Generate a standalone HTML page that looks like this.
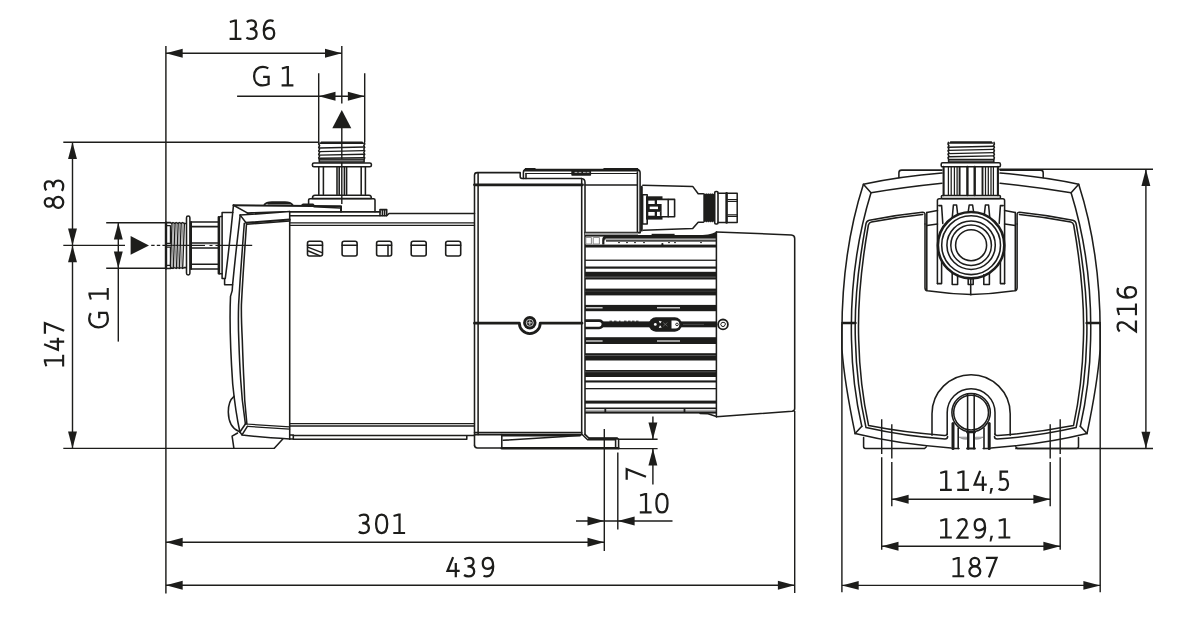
<!DOCTYPE html>
<html>
<head>
<meta charset="utf-8">
<title>Pump dimension drawing</title>
<style>
html,body{margin:0;padding:0;background:#fff;}
body{width:1200px;height:622px;overflow:hidden;font-family:"Liberation Sans",sans-serif;}
svg{display:block;position:absolute;left:0;top:0;}
.d{stroke:#1d1d1b;stroke-width:1.42;fill:none;}
.o{stroke:#1d1d1b;stroke-width:1.55;fill:none;stroke-linejoin:round;stroke-linecap:round;}
.ow{stroke:#1d1d1b;stroke-width:1.55;fill:#fff;stroke-linejoin:round;}
.k{fill:#1d1d1b;stroke:none;}
.gs{stroke:#1d1d1b;stroke-width:2.25;fill:none;stroke-linecap:butt;stroke-linejoin:miter;}
</style>
</head>
<body>
<svg width="1200" height="622" viewBox="0 0 1200 622">
<defs>
<path id="ar" d="M0 0L-16.8 -4.45L-16.8 4.45Z" fill="#1d1d1b"/>

<!-- glyphs: origin = left ink edge on baseline -->
<g id="g0" class="gs"><path d="M6.65 -19.45C10.2 -19.45 12.2 -16 12.2 -10.2C12.2 -4.4 10.2 -0.95 6.65 -0.95C3.1 -0.95 1.1 -4.4 1.1 -10.2C1.1 -16 3.1 -19.45 6.65 -19.45Z"/></g>
<g id="g1"><path class="k" d="M5.7 -20.4H7.95V-2.1H12.4V0H0.6V-2.1H5.7V-18.2L1.1 -16.9L0.6 -18.9Z"/></g>
<g id="g2" class="gs"><path d="M1.3 -17.3Q3.3 -19.45 6 -19.45C8.8 -19.45 10.3 -17.7 10.3 -15.2C10.3 -12.8 8.9 -11 6.8 -8.5L1.5 -1.05H12.3"/></g>
<g id="g3" class="gs"><path d="M1.1 -17.9Q3.2 -19.45 5.8 -19.45C8.8 -19.45 10.2 -17.6 10.2 -15.3C10.2 -12.7 8.2 -11 4.2 -10.9C8.6 -10.8 10.9 -9 10.9 -5.9C10.9 -2.8 8.7 -0.95 5.3 -0.95Q2.7 -0.95 0.7 -2.3"/></g>
<g id="g4" class="gs"><path d="M7.1 -20.1L1.5 -6.3H13.7M9.8 -14.4V0"/></g>
<g id="g5" class="gs"><path d="M10.2 -19.3H2.7V-11.5Q4.1 -12.1 5.6 -12.1C8.6 -12.1 10.1 -9.8 10.1 -6.6C10.1 -3.2 8 -0.95 4.8 -0.95Q2.4 -0.95 0.7 -2.1"/></g>
<g id="g6" class="gs"><path d="M10.8 -18.8Q9.2 -19.45 7.6 -19.45C3.6 -19.45 1.1 -15.6 1.1 -9.6C1.1 -3.6 3 -0.95 6.4 -0.95C9.6 -0.95 11.5 -3.3 11.5 -6.7C11.5 -10.1 9.7 -12.1 6.7 -12.1C4.3 -12.1 2.3 -10.7 1.2 -8.6"/></g>
<g id="g7" class="gs"><path d="M0 -19.3H10.6L3 0"/></g>
<g id="g8" class="gs"><ellipse cx="6.55" cy="-15.25" rx="4.35" ry="4.2"/><ellipse cx="6.55" cy="-5.95" rx="5.45" ry="5"/></g>
<g id="g9" class="gs"><path d="M1.8 -1.6Q3.4 -0.95 5 -0.95C9 -0.95 11.5 -4.8 11.5 -10.8C11.5 -16.8 9.6 -19.45 6.2 -19.45C3 -19.45 1.1 -17.1 1.1 -13.7C1.1 -10.3 2.9 -8.3 5.9 -8.3C8.3 -8.3 10.3 -9.7 11.4 -11.8"/></g>
<g id="gG" class="gs"><path d="M15.3 -18Q12.8 -19.6 9.9 -19.6C4.5 -19.6 1.1 -15.9 1.1 -10.2C1.1 -4.5 4.3 -0.95 9.7 -0.95Q13 -0.95 15.6 -2.3V-9.6H10.1"/></g>
<g id="gc"><path class="k" d="M0.9 -2.9H3.4L1.7 2.8H0Z"/></g>
</defs>
<rect x="0" y="0" width="1200" height="622" fill="#fff"/>

<!-- ===== DIMENSIONS LEFT VIEW ===== -->
<g id="dimL" class="d">
<path d="M165.9 46V593.6" style="stroke-width:1.45"/>
<path d="M165.9 53.2H341.8"/>
<path d="M341.8 46V103.5M341.8 128V204"/>
<path d="M318.7 73.2V142M364.7 73.2V142"/>
<path d="M237.1 96.2H364.7"/>
<path d="M63.3 142.3H318.7"/>
<path d="M72.5 142.3V448.4"/>
<path d="M63.3 245.4H125"/>
<path d="M151.2 245.4H154.6M156.8 245.4H160.2M162.4 245.4H165.2M166 245.4H252.2"/>
<path d="M63.3 448.4H274.4"/>
<path d="M106.2 222.7H166M106.2 268.3H166"/>
<path d="M118.3 222.7V341.6"/>
<path d="M165.9 542.2H604.3"/>
<path d="M165.9 585.2H794.7"/>
<path d="M794.7 411V593"/>
<path d="M604.3 429V551M617.8 452.5V529.5"/>
<path d="M576 521H672.5"/>
<path d="M618.5 439.2H657.6M618.5 448.6H657.6"/>
<path d="M652.9 416.5V439.2M652.9 448.6V484.4"/>
</g>
<g id="arrL">
<use href="#ar" transform="translate(165.9 53.2) rotate(180)"/>
<use href="#ar" transform="translate(341.8 53.2)"/>
<use href="#ar" transform="translate(318.7 96.2) rotate(180)"/>
<use href="#ar" transform="translate(364.7 96.2)"/>
<use href="#ar" transform="translate(72.5 142.3) rotate(-90)"/>
<use href="#ar" transform="translate(72.5 245.4) rotate(90)"/>
<use href="#ar" transform="translate(72.5 245.4) rotate(-90)"/>
<use href="#ar" transform="translate(72.5 448.4) rotate(90)"/>
<use href="#ar" transform="translate(118.3 222.7) rotate(-90)"/>
<use href="#ar" transform="translate(118.3 268.3) rotate(90)"/>
<use href="#ar" transform="translate(165.9 542.2) rotate(180)"/>
<use href="#ar" transform="translate(604.3 542.2)"/>
<use href="#ar" transform="translate(165.9 585.2) rotate(180)"/>
<use href="#ar" transform="translate(794.7 585.2)"/>
<use href="#ar" transform="translate(604.3 521)"/>
<use href="#ar" transform="translate(617.8 521) rotate(180)"/>
<use href="#ar" transform="translate(652.9 439.2) rotate(90)"/>
<use href="#ar" transform="translate(652.9 448.6) rotate(-90)"/>
<path class="k" d="M341.8 110L351.3 128.3H332.3Z"/>
<path class="k" d="M149 245.4L130.6 236.1V254.8Z"/>
</g>

<!-- ===== DIMENSIONS RIGHT VIEW ===== -->
<g id="dimR" class="d">
<path d="M841.9 324V592.2M1100.2 324V592.2"/>
<path d="M841.9 585.4H1100.2"/>
<path d="M881.7 419.3V454M881.7 457.2V549.7"/>
<path d="M1060.2 419.3V454M1060.2 457.2V549.7"/>
<path d="M891.8 424.3V458.6M891.8 462V506.3"/>
<path d="M1050.2 424.3V458.6M1050.2 462V506.3"/>
<path d="M881.7 546.2H1060.2"/>
<path d="M891.8 499.3H1050.2"/>
<path d="M999.2 169.3H1153M1015.2 448.5H1153"/>
<path d="M1145.9 169.3V448.5"/>
</g>
<g id="arrR">
<use href="#ar" transform="translate(841.9 585.4) rotate(180)"/>
<use href="#ar" transform="translate(1100.2 585.4)"/>
<use href="#ar" transform="translate(881.7 546.2) rotate(180)"/>
<use href="#ar" transform="translate(1060.2 546.2)"/>
<use href="#ar" transform="translate(891.8 499.3) rotate(180)"/>
<use href="#ar" transform="translate(1050.2 499.3)"/>
<use href="#ar" transform="translate(1145.9 169.3) rotate(-90)"/>
<use href="#ar" transform="translate(1145.9 448.5) rotate(90)"/>
</g>

<!-- ===== TEXT ===== -->
<g id="txt">
<use href="#g1" x="229" y="39.9"/><use href="#g3" x="245.7" y="39.9"/><use href="#g6" x="262.7" y="39.9"/>
<use href="#gG" x="253" y="86.4"/><use href="#g1" x="281" y="86.4"/>
<use href="#g3" x="358" y="534"/><use href="#g0" x="375" y="534"/><use href="#g1" x="392.7" y="534"/>
<use href="#g4" x="446" y="577.3"/><use href="#g3" x="463.3" y="577.3"/><use href="#g9" x="481.7" y="577.3"/>
<use href="#g1" x="939.4" y="490.9"/><use href="#g1" x="956.6" y="490.9"/><use href="#g4" x="973.1" y="490.9"/><use href="#gc" x="989.6" y="490.9"/><use href="#g5" x="997.9" y="490.9"/>
<use href="#g1" x="939.4" y="538.6"/><use href="#g2" x="956.3" y="538.6"/><use href="#g9" x="973.6" y="538.6"/><use href="#gc" x="989.6" y="538.6"/><use href="#g1" x="997.9" y="538.6"/>
<use href="#g1" x="951.8" y="577.3"/><use href="#g8" x="968.3" y="577.3"/><use href="#g7" x="985.9" y="577.3"/>
<use href="#g1" x="639.2" y="513.4"/><use href="#g0" x="655.3" y="513.4"/>
<use href="#g8" transform="translate(64.2 208.9) rotate(-90)"/><use href="#g3" transform="translate(64.2 191.5) rotate(-90)"/>
<use href="#g1" transform="translate(64.2 367.2) rotate(-90)"/><use href="#g4" transform="translate(64.2 351.4) rotate(-90)"/><use href="#g7" transform="translate(64.2 333.7) rotate(-90)"/>
<use href="#gG" transform="translate(108.8 328.4) rotate(-90)"/><use href="#g1" transform="translate(108.8 300.4) rotate(-90)"/>
<use href="#g2" transform="translate(1137 332.8) rotate(-90)"/><use href="#g1" transform="translate(1137 315.8) rotate(-90)"/><use href="#g6" transform="translate(1137 298.6) rotate(-90)"/>
<use href="#g7" transform="translate(646 479.7) rotate(-90)"/>
</g>

<!-- ===== LEFT VIEW PUMP ===== -->
<g id="pumpL">
<!-- inlet fitting (left) -->
<g class="o">
<path d="M166 222.6H170.5L171.5 223.4L173 222.6L174.6 223.4L176.2 222.6L177.8 223.4L179.4 222.6L181 223.4L182.6 222.6L184.2 223.4H185.6"/>
<path d="M166 268.4H170.5L171.5 267.6L173 268.4L174.6 267.6L176.2 268.4L177.8 267.6L179.4 268.4L181 267.6L182.6 268.4L184.2 267.6H185.6"/>
<path d="M166 222.6V268.4" style="stroke-width:2.4"/>
<path d="M167.2 225.7H170.4V243.4H167.2M167.2 247.2H170.4V265.4H167.2" style="stroke-width:1.2"/>
<path d="M172 223.4L170.4 267.6M175.1 223.4L173.3 267.6M178.2 223.4L176.5 267.6M181.2 223.4L179.4 267.6M184.4 223.4L182.7 267.6" style="stroke-width:1.3"/>
<path d="M173.5 223.6L171.9 267.4M176.6 223.6L174.9 267.4M179.7 223.6L178 267.4M182.8 223.6L181.1 267.4" stroke="#666" style="stroke-width:0.7"/>
<rect x="186.5" y="216" width="3.4" height="59" rx="1.7"/>
<path d="M191 222V269" style="stroke-width:2"/>
<path d="M191 222H218.5M191 226.6H218.5M191 264.2H218.5M191 268.9H218.5M191 242.9H218.5M191 248H218.5"/>
<path d="M218.6 217V273.6" style="stroke-width:2"/>
<path d="M219.4 273.8V217.6Q219.4 216.4 220.6 216.4H222.1"/>
<path d="M219.4 273.8H222.1"/>
<path d="M232.8 212.5H222.1V278.5H224.6V284.7H232.6"/>
</g>
<path d="M205 245.4H209.5M212.5 245.4H215.5" stroke="#fff" style="stroke-width:1.2" fill="none"/>
<!-- front cover -->
<g class="o">
<path d="M233.5 205.2Q229.8 243 225.3 278.4"/>
<path d="M233.5 205.2L247.3 212.9"/>
<path d="M240.2 215.1Q236 250 232.6 284.7L232.2 290.6L230.5 296.4Q229 330 232.7 384Q235.5 412 239.9 432"/>
<path d="M240.2 215.1L246 222.8"/>
<path d="M244.3 223.2C243 240 240 280 238.6 305C238.2 318 238.4 330 238.8 340C239.3 355 240 370 240.7 380L242.3 400L245.4 424"/>
<path d="M246.5 224C245.4 240 242.6 280 241.4 305C241.2 318 241.8 330 242.3 340C242.8 355 243.3 370 243.9 380L244.7 400L246.9 424"/>
<path d="M240.2 215.1L289.7 211.6M247.3 212.9L289.7 211.6"/>
<path d="M246 222.8L289.7 219.6" style="stroke-width:2"/>
<path d="M247 224.2L289.7 221"/>
<path d="M234 396.3Q228.2 401 228.3 412Q228.6 427 238.6 431.2"/>
<path d="M239.9 432L245.4 424M242 434.9L247.4 426.4"/>
<path d="M245.4 424L289.7 426.8" style="stroke-width:1.2"/>
<path d="M247.4 426.4L289.7 429.2" style="stroke-width:1.2"/>
<path d="M239.9 432L242 434.9Q262 437.6 289.7 438.9"/>
<path d="M233.9 448.3L232.1 436.2L237.6 433"/>
<path d="M274.3 448.3L282.8 439"/>
</g>
<!-- cover top + bump -->
<g class="o">
<path d="M233.5 205.2L341 206.2V211.8" style="stroke-width:2"/>
<path d="M264.5 204.6Q266 202.3 272 202.1H285Q290.5 202.3 292.5 204.8" style="stroke-width:1.8"/>
<path d="M268 203.6H290" style="stroke-width:1.6"/>
<path d="M302 205.2L303 204.3H313L314 205.4"/>
<path d="M314 206.8L340 208"/>
</g>
<!-- main body -->
<g class="o">
<path d="M289.7 211.6V438.9"/>
<path d="M289.7 211.9H380" style="stroke-width:1.8"/>
<path d="M289.7 215.8H386.6L389 213.5H474.5"/>
<path d="M289.7 222.9H474.5M289.7 225.3H474.5" style="stroke-width:1.3"/>
<path d="M289.7 423.7H474.5M289.7 426H474.5" style="stroke-width:1.3"/>
<path d="M289.7 435H293.3V438.9H289.7"/>
<path d="M293.3 435.4H474.5M293.3 439.2H466.8V435.4"/>
<path d="M380 215.6V209.6H386.7V215.6" style="stroke-width:1.6"/>
<path d="M382.4 210V215.4M384.6 210V215.4"/>
</g>
<!-- small windows -->
<g class="o">
<rect x="307.5" y="241.3" width="15" height="14.7" rx="2" style="stroke-width:1.6"/>
<rect x="342.1" y="241.3" width="15" height="14.7" rx="2" style="stroke-width:1.6"/>
<rect x="376.6" y="241.3" width="15" height="14.7" rx="2" style="stroke-width:1.6"/>
<rect x="411.2" y="241.3" width="15" height="14.7" rx="2" style="stroke-width:1.6"/>
<rect x="445.7" y="241.3" width="15" height="14.7" rx="2" style="stroke-width:1.6"/>
<path d="M307.5 245.3H322.5M342.1 245.3H357.1M376.6 245.3H391.6M411.2 245.3H426.2M445.7 245.3H460.7"/>
<path d="M308.4 247.4L322 252.6M308.4 251L319.6 255.6M388 245.3V255.8"/>
</g>
<!-- outlet fitting (top) -->
<g class="o">
<path class="k" d="M321 141.5H362.4L364.4 144H319Z"/>
<rect x="319.3" y="158.8" width="44.8" height="3.4" fill="#777" stroke="none"/><path d="M319.3 159.2H364.1M319.3 162.2H364.1" style="stroke-width:1.2"/>
<path d="M319 142.4L318.7 144L319.6 145.6L318.7 147.3L319.6 149L318.7 150.8L319.6 152.5L318.7 154.3L319.6 156L318.7 157.8L319.3 159.5V161.8"/>
<path d="M364.4 142.4L364.7 144L363.8 145.6L364.7 147.3L363.8 149L364.7 150.8L363.8 152.5L364.7 154.3L363.8 156L364.7 157.8L364.1 159.5V161.8"/>
<path d="M319.4 148L364.2 147M319.4 151.6L364.2 150.6M319.4 155.1L364.2 154.2M319.4 158.2L364.2 157.6" style="stroke-width:1.4"/>
<rect x="312.4" y="163" width="59" height="3.8" rx="1.6"/>
<path d="M318.8 166.8V194.6M323.4 166.8V194.6M361.2 166.8V194.6M365.4 166.8V194.6"/>
<path d="M337 166.8V194.6M339.2 166.8V194.6M344.4 166.8V194.6M346.6 166.8V194.6"/>
<path d="M315 195.2H369Q371.4 195.2 371.4 198.4H312.4Q312.4 195.2 315 195.2Z"/>
<path d="M308.6 205.6V200Q308.6 198.8 310 198.8H373.6Q375 198.8 375 200V211.8"/>
</g>
</g>
<g id="pumpL2">
<!-- control box -->
<g class="o">
<path d="M581.7 434V178.6" />
<path d="M474.5 445.3V175.2Q474.5 172.6 477.2 172.6H520.2V176.6Q520.2 178.4 522 178.4H581.5Q585 178.6 585 182.4V434.4"/>
<path d="M478.1 173.6V434.6"/>
<path d="M474.5 184.8H582.5" style="stroke-width:2.8"/>
<path d="M523.4 178.4V172.4Q523.4 169.6 526.2 169.6H636.5Q640.1 169.8 640.1 172.8V232.8"/>
<path d="M525 170.2H638" style="stroke-width:2.4"/>
<path d="M526 173.4V178.4"/>
<path d="M526 173.5H637" style="stroke-width:1.1"/>
<path d="M525.4 168.7H535M604 168.7H637.6" style="stroke-width:1.4"/>
<path d="M585 185H637"/>
<path d="M637.4 172V233"/>
<path d="M585 232.6H640"/>
<rect class="k" x="571.3" y="170.6" width="19.8" height="5.2" rx="0.8"/>
<path d="M575 172.4H577M579 172.4H581M583.4 172.4H585.4M587 172.4H589" stroke="#ccc" style="stroke-width:0.9"/>
<!-- bottom of box -->
<path d="M474.5 445.3Q474.5 447.9 477.4 447.9H501.8"/>
<path d="M474.5 432.6H581.7M474.5 434.7H581.7" />
<path d="M501.8 434.6V447.9"/>
<path d="M501.8 448.2H618.4" style="stroke-width:2.4"/>
<path d="M503.2 440.3L565 436.6L580 435.2"/>
<path d="M501.8 435.6H580" style="stroke-width:1.8"/>
<path d="M585 434.4L589.5 438.6H617.2Q618.6 438.6 618.6 440V448.4"/>
<path d="M589.5 438.4H617" style="stroke-width:2.2"/>
<path d="M581.7 434L587.6 439.8H615.6V448"/>
</g>
<!-- mid seam + screw -->
<path class="o" d="M474.5 323.2H519.4A10.4 10.4 0 0 0 540.2 323.2H582" style="stroke-width:2.8"/>
<circle class="k" cx="529.8" cy="322.8" r="6.7"/>
<circle cx="529.8" cy="322.8" r="3.5" fill="none" stroke="#ddd" style="stroke-width:0.9"/>
<path d="M529.8 320.4V325.2M527.4 322.8H532.2" stroke="#ddd" style="stroke-width:0.9" fill="none"/>
<!-- connector -->
<g class="o">
<path d="M641.6 187V230.4" style="stroke-width:2.4"/>
<path d="M642.8 185.3L692.7 186.4L698.2 193.7H703.3M643.4 230.2L692.7 228.6L698.2 222.2H703.3"/>
<path class="k" d="M703.3 193.7L704.2 193.2L705.2 194L706.2 193.2L707.2 194L708.2 193.2L709.2 194L710.2 193.2L711.2 194L712.2 193.2L713.2 194L714.7 193.4V222.2L713.2 221.6L712.2 222.4L711.2 221.6L710.2 222.4L709.2 221.6L708.2 222.4L707.2 221.6L706.2 222.4L705.2 221.6L704.2 222.4L703.3 221.9Z"/>
<rect class="ow" x="714.7" y="191.5" width="3.3" height="32.5" rx="1.2" style="stroke-width:1.6"/>
<path d="M718 193.3H737.2V222.6H718" style="stroke-width:1.5"/>
<path d="M726.6 193.3V222.6" style="stroke-width:2.5"/>
<path d="M727.8 199.7H737.2M727.8 201.5H737.2M727.8 214.8H737.2M727.8 216.5H737.2" style="stroke-width:1.2"/>
<rect class="ow" x="642.6" y="194.7" width="4.6" height="29.3" style="stroke-width:1.6"/>
<rect class="k" x="646" y="196.3" width="16.5" height="23.3"/>
<rect class="ow" x="656.2" y="199.4" width="18.4" height="17.3" style="stroke-width:1.6"/>
<path d="M668.2 199.4V216.7" style="stroke-width:1.5"/>
<rect x="648.3" y="200.6" width="6.4" height="3.4" fill="#fff" stroke="none"/>
<rect x="648.3" y="211.8" width="6.4" height="3.9" fill="#fff" stroke="none"/>
<rect class="k" x="647" y="204" width="14.6" height="7.8"/>
<rect x="649.7" y="206.6" width="8.3" height="2.5" fill="#fff" stroke="none"/>
<rect class="k" x="659.9" y="211.6" width="1.7" height="4.3"/>
</g>
</g>
<g id="motor">
<!-- gray strips -->
<rect x="585" y="232.8" width="53" height="2.4" fill="#9a9a9a"/>
<rect x="604" y="238.4" width="112" height="1.8" fill="#a8a8a8"/>
<rect x="586" y="409.6" width="130" height="2.6" fill="#b0b0b0"/>
<!-- dark bands -->
<g class="k">
<rect x="585" y="235" width="131.4" height="1.6"/>
<path d="M603 235H716.4V238.6H606Q604.4 238.8 604.4 241V244.6H602.2V240Q602.2 236 606 235Z"/>
<rect x="606" y="240.2" width="110.4" height="1.4"/>
<rect x="585" y="244.6" width="131.4" height="2.9"/>
<rect x="651.6" y="233.8" width="23" height="2"/>
<path d="M700 235.2L708 234.6Q712 234 716.4 231.8V236H700Z"/>
<rect x="585" y="259.6" width="131.4" height="1.3"/>
<rect x="585" y="266.5" width="131.4" height="2.2"/>
<rect x="585" y="271.8" width="131.4" height="7.7"/>
<rect x="585" y="288.6" width="131.4" height="6.8"/>
<rect x="585" y="304.9" width="131.4" height="6.3"/>
<rect x="603" y="321.4" width="113.4" height="5.9"/>
<rect x="585" y="337.2" width="131.4" height="6.8"/>
<rect x="585" y="353.2" width="131.4" height="7.3"/>
<rect x="585" y="370" width="131.4" height="7"/>
<rect x="585" y="380.4" width="131.4" height="2.1"/>
<rect x="585" y="388" width="131.4" height="1.3"/>
<rect x="585" y="400.6" width="131.4" height="3"/>
<rect x="585" y="407.5" width="131.4" height="1.5"/>
<rect x="585" y="411.6" width="131.4" height="2"/>
<rect x="604.4" y="409" width="1.8" height="3"/>
<rect x="683.6" y="409" width="1.8" height="3"/>
</g>
<!-- light lines inside bands -->
<g fill="none">
<path d="M585 277.1H716.4" stroke="#8a8a8a" style="stroke-width:0.7"/>
<path d="M585 291.2H716.4" stroke="#555" style="stroke-width:0.6"/>
<path d="M585 355.5H716.4" stroke="#6a6a6a" style="stroke-width:0.7"/>
<path d="M585 371.8H716.4" stroke="#6a6a6a" style="stroke-width:0.7"/>
<path d="M586 307.8H602.6M657 307.8H680M586 341H602.6M657 341H680" stroke="#c8c8c8" style="stroke-width:1.4"/>
</g>
<!-- small boxes at top-left of motor -->
<g class="o" style="stroke-width:1">
<rect x="586.2" y="237.4" width="5.2" height="6.6" stroke="#888"/>
<rect x="593.6" y="237.4" width="5.8" height="6.6" stroke="#888"/>
</g>
<path d="M618 242.6H620M626 242.6H628M634 242.6H636M643 242.6H645M668 242.6H670M674 242.6H676M700 242.6H702" stroke="#1d1d1b" style="stroke-width:0.9" fill="none"/>
<circle class="k" cx="662.4" cy="244.2" r="1.1"/>
<!-- slot at left of centre band -->
<path class="o" d="M585 320.6H599.2A3.7 3.7 0 0 1 599.2 328H585" style="stroke-width:2.6;stroke-linecap:butt"/>
<!-- small text-like marks -->
<path d="M609.5 321.2H612M614 321.2H616.5M619 321.2H620.5M624 321.2H626.5M628 321.2H630.5M632 321.2H634.5M636 321.2H638.5" stroke="#1d1d1b" style="stroke-width:1" fill="none"/>
<!-- pill -->
<rect class="k" x="648.7" y="317.3" width="33.3" height="14.4" rx="7.2"/>
<path d="M671.5 320.5H675.4A3.95 3.95 0 0 1 675.4 328.4H671.5Z" fill="#fff"/>
<circle class="k" cx="665.3" cy="324.4" r="4.8"/>
<circle cx="655.3" cy="324.4" r="1.4" fill="#fff"/>
<path d="M658.8 320.8L661.8 321.4L660 323.6ZM658.8 328L661.8 327.4L660 325.2Z" fill="#fff"/>
<path d="M663.2 322.6L667.4 326.2M667.4 322.6L663.2 326.2" stroke="#777" style="stroke-width:0.7" fill="none"/>
<circle cx="677" cy="324.4" r="1.3" fill="#fff" stroke="#1d1d1b" style="stroke-width:0.9"/>
<path d="M683 324.4H704" stroke="#666" style="stroke-width:0.6" fill="none"/>
<!-- motor right edge -->
<path class="o" d="M716.4 232V416.8"/>
<!-- fan cover -->
<path class="o" d="M716.4 232L791.4 234.9Q794.7 235.2 794.7 238.4V408.4Q794.7 411 792 411.3L716.4 416.8"/>
<path class="o" d="M700 413.4L708 413.8L716.4 416.6"/>
<!-- screw right -->
<circle class="ow" cx="723" cy="324.4" r="4.9" style="stroke-width:1.8"/>
<path class="o" d="M725.3 324.4L724.15 326.4H721.85L720.7 324.4L721.85 322.4H724.15Z" style="stroke-width:1"/>
</g>


<!-- ===== RIGHT VIEW PUMP ===== -->
<g id="pumpR">
<!-- half shell (left), mirrored for right -->
<defs>
<g id="halfR" class="o">
<!-- top tab -->
<path d="M942 170.1H901.6Q898.9 170.1 898.9 172.8V177.6"/>
<!-- outer shell -->
<path d="M942 173.1Q900 176.5 863.4 184.3Q841.6 252 841.9 335V349Q844.5 383 855.1 433.6Q900 444.6 951 447.9"/>
<!-- bevel top -->
<path d="M863.4 184.3L871 192.7Q905 187 942 183.2"/>
<!-- bevel inner left -->
<path d="M871 192.7Q849.6 262 851.5 340Q852.3 385 861.8 426.4"/>
<path d="M855.1 433.6L861.8 426.2"/>
<!-- inner panel double outline -->
<path d="M925 224V214.6Q925 212 922.4 212.2Q895 215 869.4 220.2Q866.6 220.8 866 223.6Q853.6 290 855.4 340Q856.5 385 866 427.6Q905 436.4 945 439Q947.6 439 947.6 436.6"/>
<path d="M926.8 212.4V290.4"/>
<path d="M922.6 214.4Q896 217 871.4 222Q869 222.6 868.4 225Q857 290 858.7 340Q859.8 385 868.6 425.6Q905 432.8 944.4 435.4Q946.6 435.6 947.2 434"/>
<!-- seam -->
<path d="M842.4 323H855.4" style="stroke-width:2.6"/>
<!-- foot -->
<path d="M863.6 437.4V446.6Q863.6 448.5 865.4 448.5H924.6L926.4 446.8"/>
<!-- bracket -->
<path d="M926.8 212.6L937.5 210.6M926.8 225.6L937.5 224"/>
<path d="M925 224V288Q925 290.4 927.4 290.8Q950 294 971.1 294.6"/>
</g>
</defs>
<use href="#halfR"/>
<use href="#halfR" transform="translate(1942.1 0) scale(-1 1)"/>
<!-- bottom arch -->
<g class="o">
<path d="M932 435.2V413.8A39.1 39.1 0 0 1 1010.2 413.8V435.2"/>
<path d="M947.2 434.6V412.6A23.9 23.9 0 0 1 995 412.6V434.6"/>
<circle cx="971.1" cy="412.6" r="19.2"/>
<circle cx="971.1" cy="412.6" r="17.4"/>
<path d="M967.6 394V431.6M974.2 394V431.6"/>
<path d="M959.4 437.4Q963 439.6 966.8 439.2L966.8 437.6ZM982.8 437.4Q979.2 439.6 975.4 439.2L975.4 437.6Z" fill="#aaa" stroke="#888" style="stroke-width:0.8"/>
</g>
<g class="o">
<path d="M953 423.4V448.6" style="stroke-width:3"/>
<path d="M958.2 428V448.6" style="stroke-width:1.6"/>
<path d="M952 448.5H959"/>
<path d="M968.2 431.8V448.6" style="stroke-width:2.4"/>
<path d="M974 431.8V448.6" style="stroke-width:2"/>
<path d="M967 432.4H975M967 448.5H975" style="stroke-width:1.8"/>
<path d="M984 428V448.6" style="stroke-width:1.6"/>
<path d="M989.2 423.4V448.6" style="stroke-width:3"/>
<path d="M983.2 448.5H990.2"/>
</g>
<!-- block with port -->
<g class="o">
<path d="M937.4 283.6V200.6Q937.4 198.8 939.2 198.8H1002.8Q1004.6 198.8 1004.6 200.6V283.6"/>
<path d="M937.4 283.6H941.6V262M1004.6 283.6H1000.4V262"/>
<path d="M938.8 205.6H941.6L942.8 223.4M1003.2 205.6H1000.4L999.2 223.4"/>
<path d="M952.2 218L953.4 205H956.6L957.8 215.4M968.2 212L969.2 205H972.6L973.6 212M984.2 215.4L985.4 205H988.6L989.8 218"/>
<path d="M952.2 272.6V284.4H957.6V274.8M983.8 274.8V284.4H989.4V272.6"/>
<path d="M968.2 278.6V284.4H973.2V278.6M970.7 278.6V294.6"/>
<circle cx="971.1" cy="245.2" r="33.2" style="stroke-width:2.6"/>
<circle cx="971.1" cy="245.2" r="29.4"/>
<circle cx="971.1" cy="245.2" r="24.2"/>
<circle cx="971.1" cy="245.2" r="20.3"/>
<circle cx="971.1" cy="245.2" r="15.5"/>
</g>
<!-- top fitting -->
<g class="o">
<path class="k" d="M950.4 141.2H991.6L993.8 143.8H948.4Z"/>
<rect x="948.6" y="159" width="45.2" height="3.4" fill="#777" stroke="none"/><path d="M948.6 159.4H993.8M948.6 162.2H993.8" style="stroke-width:1.2"/>
<path d="M948.4 142.4L948 144L948.9 145.6L948 147.3L948.9 149L948 150.8L948.9 152.5L948 154.3L948.9 156L948 157.8L948.6 159.5V161.8"/>
<path d="M994 142.4L994.4 144L993.5 145.6L994.4 147.3L993.5 149L994.4 150.8L993.5 152.5L994.4 154.3L993.5 156L994.4 157.8L993.8 159.5V161.8"/>
<path d="M948.8 147.2L993.8 146.2M948.8 150.4L993.8 149.4M948.8 153.6L993.8 152.6M948.8 156.8L993.8 155.9" style="stroke-width:1.4"/>
<rect x="941.2" y="162.8" width="59.2" height="4" rx="1.4"/>
<path d="M943.6 166.8V195.2M997.9 166.8V195.2" style="stroke-width:2.1"/>
<path d="M948.4 167V195M951.2 167V195M954.4 167V195M957.1 167V195M985.5 167V195M988.3 167V195M991 167V195M993.4 167V195" style="stroke-width:1.25"/>
<path d="M959.6 167V195M982.5 167V195" style="stroke-width:1.9"/>
<path d="M967.4 167V195M974.7 167V195" style="stroke-width:2.4"/>
<rect x="941.4" y="195.4" width="59" height="3" rx="1"/>
</g>
</g>

</svg>
</body>
</html>
